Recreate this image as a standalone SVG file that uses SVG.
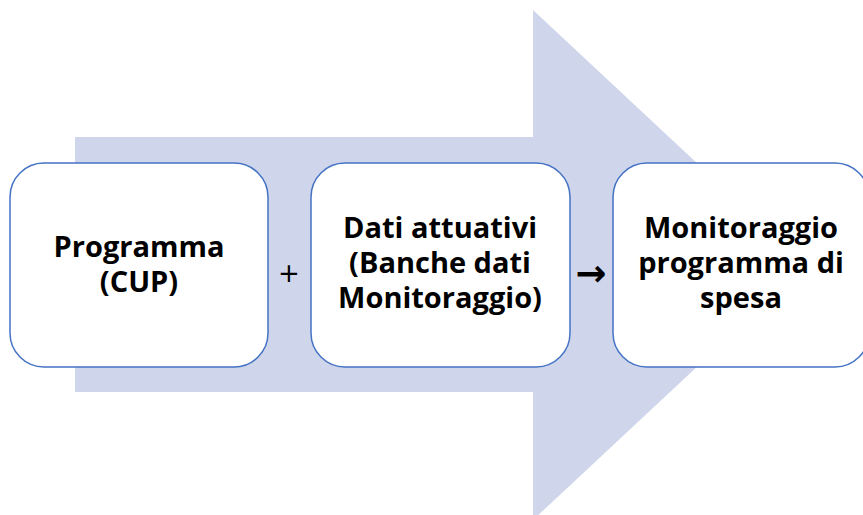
<svg xmlns="http://www.w3.org/2000/svg" width="863" height="515" viewBox="0 0 863 515">
<style>
.box{fill:#ffffff;stroke:#4472c4;stroke-width:1.5}
.t{font-family:"Open Sans","Liberation Sans",sans-serif;font-weight:bold;font-size:29px;fill:#000;text-anchor:middle}
.s{font-family:"DejaVu Sans","Liberation Sans",sans-serif;fill:#000;text-anchor:middle}
</style>
<rect width="863" height="515" fill="#ffffff"/>
<g id="bigarrow">
<polygon points="75,137 533,137 533,10 806,265 533,520 533,392 75,392" fill="#cfd5ea"/>
</g>
<g id="node1">
<rect class="box" x="10" y="163" width="258" height="204" rx="34" ry="34"/>
<text class="t" x="139" y="257">Programma</text>
<text class="t" x="139" y="292">(CUP)</text>
</g>
<g id="node2">
<rect class="box" x="311" y="163" width="259" height="204" rx="34" ry="34"/>
<text class="t" x="440" y="238">Dati attuativi</text>
<text class="t" x="440" y="273">(Banche dati</text>
<text class="t" x="440" y="308">Monitoraggio)</text>
</g>
<g id="node3">
<rect class="box" x="613" y="163" width="256" height="204" rx="34" ry="34"/>
<text class="t" x="741" y="238">Monitoraggio</text>
<text class="t" x="741" y="273">programma di</text>
<text class="t" x="741" y="308">spesa</text>
</g>
<g id="connectors">
<text class="s" x="289" y="282" font-size="26">+</text>
<text class="s" x="591" y="286" font-size="37" font-weight="bold">→</text>
</g>
</svg>
